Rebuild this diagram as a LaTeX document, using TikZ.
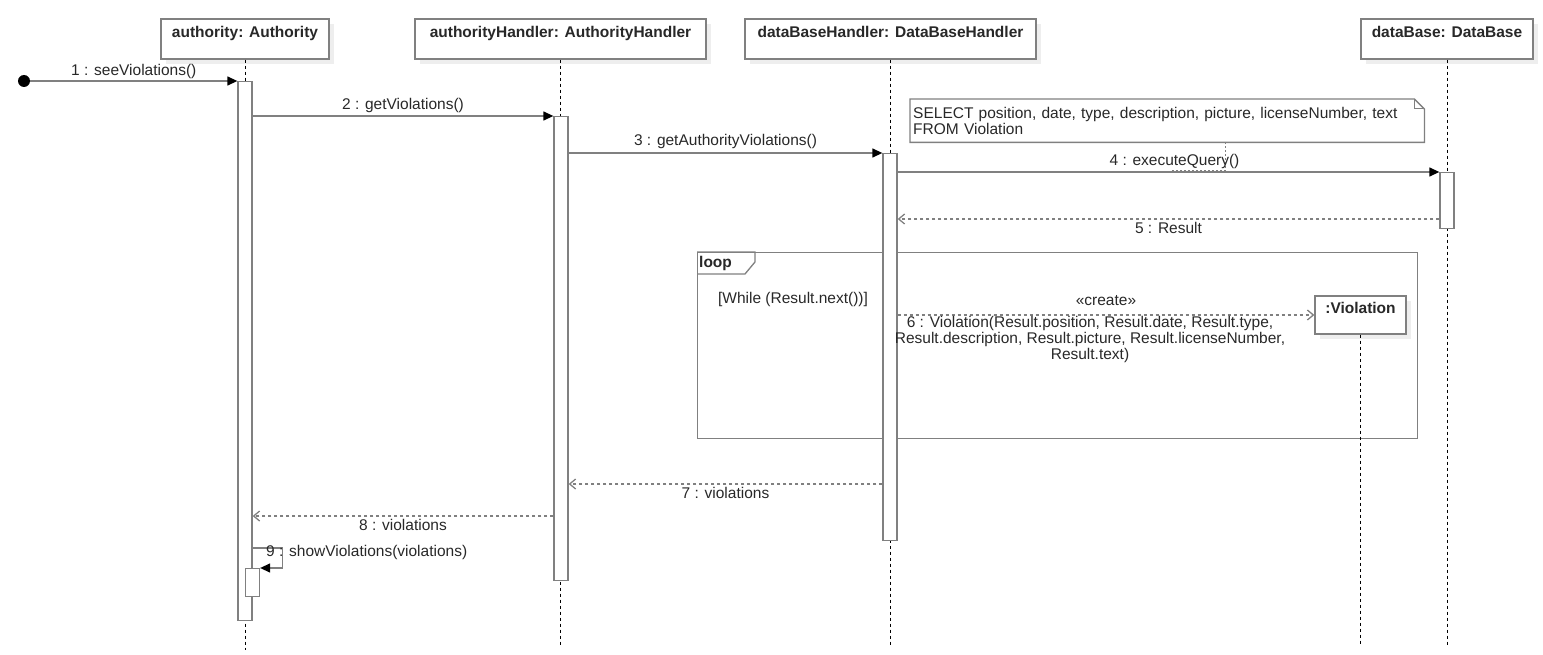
\documentclass[tikz,border=0pt]{standalone}
\usepackage{fontspec}
\setmainfont{Liberation Sans}
\usetikzlibrary{arrows.meta,shadows,positioning}
\definecolor{linegray}{RGB}{128,128,128}
\definecolor{shadowgray}{RGB}{238,238,238}
\definecolor{textgray}{RGB}{40,40,40}
\tikzset{
  head/.style={draw=linegray, line width=1.3pt, fill=white, minimum height=40, inner sep=0pt,
    font=\bfseries, drop shadow={shadow xshift=5pt, shadow yshift=-5pt, fill=shadowgray, opacity=1}},
  life/.style={black, line width=0.8pt, dash pattern=on 3pt off 3pt},
  act/.style={draw=linegray, line width=1.3pt, fill=white, minimum width=14, inner sep=0pt, anchor=north},
  msg/.style={linegray, line width=1.3pt, -{Triangle[length=10pt, width=9pt, color=black]}},
  ret/.style={linegray, line width=1.3pt, dash pattern=on 3pt off 3pt, -{Straight Barb[length=6pt, width=10pt]}},
  lbl/.style={inner sep=1pt, text=textgray},
}
\newcommand{\headstrut}{\rule[-14pt]{0pt}{0pt}}
\begin{document}
\fontsize{15.5}{16}\selectfont
\begin{tikzpicture}[x=1pt, y=-1pt, text=textgray]
  \useasboundingbox (0,0) rectangle (1543,655);
  % combined fragment
  \node[draw=linegray, line width=1.3pt, minimum width=720, minimum height=186, inner sep=0pt, anchor=north west] (loop) at (697,252) {};
  \draw[linegray, line width=1.3pt] (loop.north west) -- ++(58,0) -- ++(0,10) -- ++(-10,12) -- ++(-48,0);
  \node[anchor=west, font=\bfseries, inner sep=1pt] (loopTag) at (698,263) {loop};
  \node (guard) at (793,299) {[While (Result.next())]};

  % lifeline heads
  \node[head, minimum width=168] (auth) at (245,39) {\headstrut authority: Authority};
  \node[head, minimum width=291] (authHandler) at (560.5,39) {\headstrut authorityHandler: AuthorityHandler};
  \node[head, minimum width=291] (dbHandler) at (890.5,39) {\headstrut dataBaseHandler: DataBaseHandler};
  \node[head, minimum width=172] (db) at (1447,39) {\headstrut dataBase: DataBase};
  \node[head, minimum width=91, minimum height=38] (viol) at (1360.5,315) {\headstrut :Violation};

  % lifelines
  \draw[life] (auth.south) -- (auth.south |- 0,650);
  \draw[life] (authHandler.south) -- (authHandler.south |- 0,645);
  \draw[life] (dbHandler.south) -- (dbHandler.south |- 0,645);
  \draw[life] (db.south) -- (db.south |- 0,645);
  \draw[life] (viol.south) -- (viol.south |- 0,645);

  % activations
  \node[act, minimum height=539] (actAuth) at (245,81) {};
  \node[act, minimum height=464] (actHand) at (561,116) {};
  \node[act, minimum height=387] (actDbh) at (890,153) {};
  \node[act, minimum height=56] (actDb) at (1447,172) {};
  \node[act, minimum height=28] (actSelf) at (252.5,568) {};

  % note
  \node[minimum width=514, minimum height=43, text width=508, align=left, inner sep=3pt, anchor=north west] (query) at (910,99)
    {SELECT position, date, type, description, picture, licenseNumber, text\\FROM Violation};
  \draw[linegray, line width=1.3pt] (query.north west) -- ([xshift=-10pt]query.north east) -- ([yshift=-10pt]query.north east)
    -- (query.south east) -- (query.south west) -- cycle;
  \draw[linegray, line width=1pt] ([xshift=-10pt]query.north east) -- ++(0,10) -- ++(10,0);
  \coordinate (queryTie) at (1225,171);
  \draw[linegray, line width=1pt, dash pattern=on 2pt off 2pt] (query.south -| queryTie) -- (queryTie) -- ++(-53,0);

  % messages
  \node[circle, fill=black, minimum size=12, inner sep=0pt] (start) at (24,81) {};
  \draw[msg] (start) -- (actAuth.north west) node[lbl, midway, above=1pt] {1 : seeViolations()};
  \draw[msg] (actAuth.east |- actHand.north) -- (actHand.north west) node[lbl, midway, above=2pt] {2 : getViolations()};
  \draw[msg] (actHand.east |- actDbh.north) -- (actDbh.north west) node[lbl, midway, above=3pt] {3 : getAuthorityViolations()};
  \draw[msg] (actDbh.east |- actDb.north) -- (actDb.north west) node[lbl, midway, above=2pt, xshift=6pt] {4 : executeQuery()};
  \draw[ret] (actDb.west |- 0,219) -- (actDbh.east |- 0,219) node[lbl, midway, below=2pt] {5 : Result};
  \draw[ret] (actDbh.east |- viol.west) -- (viol.west) node[lbl, midway, above=8pt] {«create»}
    node[lbl, midway, below=0pt, xshift=-16pt, align=center] {6 : Violation(Result.position, Result.date, Result.type,\\Result.description, Result.picture, Result.licenseNumber,\\Result.text)};
  \draw[ret] (actDbh.west |- 0,484) -- (actHand.east |- 0,484) node[lbl, midway, below=2pt] {7 : violations};
  \draw[ret] (actHand.west |- 0,516) -- (actAuth.east |- 0,516) node[lbl, midway, below=2pt] {8 : violations};
  \coordinate (selfOut) at (actAuth.east |- 0,548);
  \draw[msg] (selfOut) -- ++(30,0) |- (actSelf.north east);
  \node[lbl, anchor=west] (selfLbl) at (265,552) {9 : showViolations(violations)};
\end{tikzpicture}
\end{document}
